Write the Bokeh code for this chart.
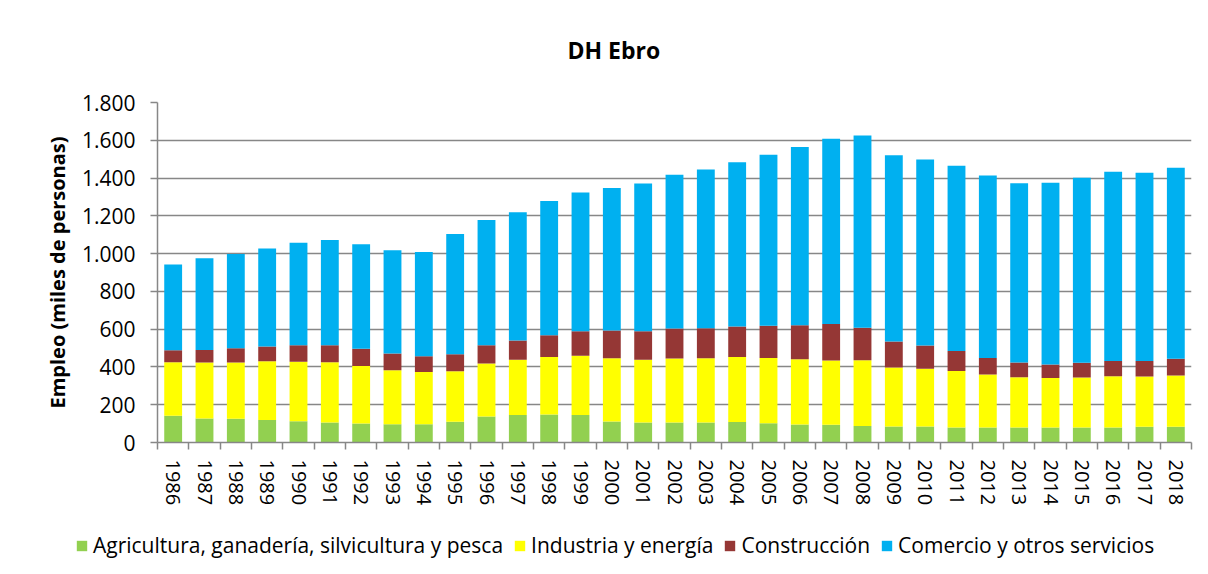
from bokeh.plotting import figure
from bokeh.models import (ColumnDataSource, Range1d, FixedTicker, Legend, LegendItem, Title)
from bokeh.embed import file_html
from bokeh.resources import INLINE

years = [str(y) for y in range(1986, 2019)]
agricultura = [142, 127, 126, 119, 113, 106, 101, 96, 96, 110, 138, 146, 148, 146, 111, 106, 106, 106, 109, 102,
               95, 94, 88, 85, 85, 79, 79, 79, 79, 79, 79, 83, 83]
industria = [283, 296, 297, 311, 315, 319, 304, 286, 277, 267, 280, 292, 305, 313, 335, 332, 339, 340, 344, 346,
             346, 340, 347, 312, 305, 299, 281, 267, 262, 265, 272, 266, 272]
construccion = [63, 67, 76, 78, 87, 90, 91, 89, 84, 90, 97, 102, 115, 130, 147, 151, 158, 159, 161, 170,
                180, 194, 172, 138, 124, 107, 88, 78, 72, 78, 81, 83, 88]
servicios = [454, 485, 499, 519, 543, 557, 553, 547, 552, 637, 663, 679, 711, 734, 755, 782, 814, 840, 870, 905,
             944, 980, 1018, 986, 984, 980, 965, 949, 962, 979, 1001, 996, 1011]
series_names = ["Agricultura, ganadería, silvicultura y pesca", "Industria y energía",
                "Construcción", "Comercio y otros servicios"]
colors = ["#92D050", "#FFFF00", "#953735", "#00B0F0"]
y_ticks = [0, 200, 400, 600, 800, 1000, 1200, 1400, 1600, 1800]
y_tick_labels = ["0", "200", "400", "600", "800", "1.000", "1.200", "1.400", "1.600", "1.800"]

xs = list(range(len(years)))
source = ColumnDataSource(dict(x=xs, agri=agricultura, ind=industria, cons=construccion, serv=servicios))
stack_cols = ["agri", "ind", "cons", "serv"]

FONT = "Open Sans"
GRID = "#878787"

p = figure(frame_width=1034, frame_height=340, output_backend="svg", toolbar_location=None,
           x_range=Range1d(-0.5, len(years) - 0.5), y_range=Range1d(0, 1800),
           min_border_left=157, min_border_right=17, min_border_top=102, min_border_bottom=78)
p.outline_line_color = None

p.vbar_stack(stack_cols, x="x", width=0.57, color=colors, line_color=None, source=source)

# real title is the outer one; an empty spacer title sits between it and the frame
p.title.text = "DH Ebro"
p.title.align = "left"
p.title.offset = 410
p.title.text_font = FONT
p.title.text_font_size = "23px"
p.title.text_font_style = "bold"
p.title.text_color = "#000000"
spacer = Title(text=" ", text_font_size="18px")
p.add_layout(spacer, "above")

# x axis
p.xaxis.ticker = FixedTicker(ticks=xs, minor_ticks=[i - 0.5 for i in range(len(years) + 1)])
p.xaxis.major_label_overrides = {i: y for i, y in enumerate(years)}
p.xaxis.major_label_orientation = "vertical"
p.xaxis.major_tick_line_color = None
p.xaxis.major_tick_out = 7
p.xaxis.major_tick_in = 0
p.xaxis.minor_tick_out = 7
p.xaxis.minor_tick_in = 0
p.xaxis.minor_tick_line_color = GRID
p.xaxis.minor_tick_line_width = 1.5
p.xaxis.axis_line_color = GRID
p.xaxis.axis_line_width = 1.5
p.xaxis.major_label_standoff = 10
p.xaxis.major_label_text_font = FONT
p.xaxis.major_label_text_font_size = "20px"
p.xaxis.major_label_text_color = "#000000"

# y axis
p.yaxis.ticker = FixedTicker(ticks=y_ticks)
p.yaxis.major_label_overrides = {v: l for v, l in zip(y_ticks, y_tick_labels)}
p.yaxis.major_tick_out = 7
p.yaxis.major_tick_in = 0
p.yaxis.minor_tick_line_color = None
p.yaxis.major_tick_line_color = GRID
p.yaxis.major_tick_line_width = 1.5
p.yaxis.axis_line_color = GRID
p.yaxis.axis_line_width = 1.5
p.yaxis.major_label_standoff = 15
p.yaxis.major_label_text_font = FONT
p.yaxis.major_label_text_font_size = "21px"
p.yaxis.major_label_text_color = "#000000"
p.yaxis.axis_label = "Empleo (miles de personas)"
p.yaxis.axis_label_text_font = FONT
p.yaxis.axis_label_text_font_size = "20px"
p.yaxis.axis_label_text_font_style = "bold"
p.yaxis.axis_label_text_color = "#000000"
p.yaxis.axis_label_standoff = 8

p.xgrid.grid_line_color = None
p.ygrid.grid_line_color = GRID
p.ygrid.grid_line_width = 1.5

# legend strip: a second root figure (no axes) whose own stack lies below its view; only its legend shows
leg = figure(width=1200, height=54, output_backend="svg", toolbar_location=None,
             x_range=Range1d(-0.5, len(years) - 0.5), y_range=Range1d(2000, 3000),
             x_axis_location=None, y_axis_location=None,
             min_border_left=0, min_border_right=0, min_border_top=0, min_border_bottom=0)
leg.outline_line_color = None
leg.xgrid.grid_line_color = None
leg.ygrid.grid_line_color = None
leg_renderers = leg.vbar_stack(stack_cols, x="x", width=0.57, color=colors, line_color=None, source=source)

legend = Legend(items=[LegendItem(label=n, renderers=[r]) for n, r in zip(series_names, leg_renderers)],
                orientation="horizontal", location=(75, 15))
legend.label_text_font = FONT
legend.label_text_font_size = "21px"
legend.label_text_color = "#000000"
legend.glyph_width = 13
legend.glyph_height = 13
legend.label_standoff = 5
legend.spacing = 10
legend.border_line_color = None
legend.background_fill_alpha = 0
legend.padding = 4
legend.margin = 0
leg.add_layout(legend, "center")

open("out.html", "w").write(file_html([p, leg], INLINE))
